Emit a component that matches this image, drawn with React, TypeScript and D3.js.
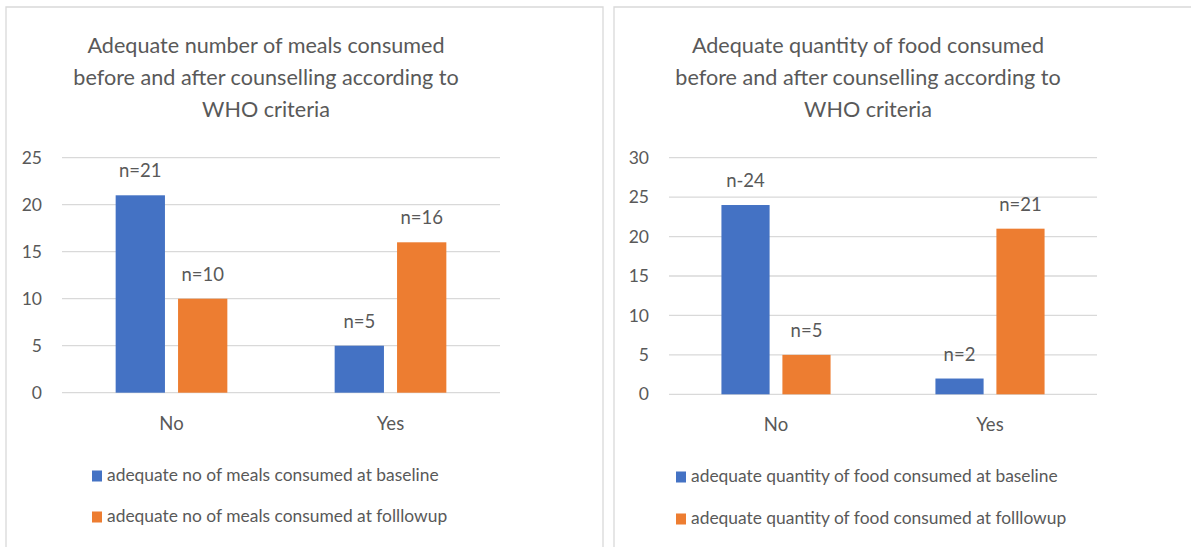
import React from "react";
import * as d3 from "d3";

const categories = ["No", "Yes"];

const mealsTitle = [
  "Adequate number of meals consumed",
  "before and after counselling according to",
  "WHO criteria",
];
const mealsSeriesNames = [
  "adequate no of meals consumed at baseline",
  "adequate no of meals consumed at folllowup",
];
const mealsBaseline = [21, 5];
const mealsFollowup = [10, 16];
const mealsBaselineLabels = ["n=21", "n=5"];
const mealsFollowupLabels = ["n=10", "n=16"];
const mealsTicks = [0, 5, 10, 15, 20, 25];

const foodTitle = [
  "Adequate quantity of food consumed",
  "before and after counselling according to",
  "WHO criteria",
];
const foodSeriesNames = [
  "adequate quantity of food consumed at baseline",
  "adequate quantity of food consumed at folllowup",
];
const foodBaseline = [24, 2];
const foodFollowup = [5, 21];
const foodBaselineLabels = ["n-24", "n=2"];
const foodFollowupLabels = ["n=5", "n=21"];
const foodTicks = [0, 5, 10, 15, 20, 25, 30];

const COLORS = ["#4472C4", "#ED7D31"];
const TEXT = "#595959";
const GRID = "#D9D9D9";
const FONT = "Lato, 'Open Sans', sans-serif";

type PanelProps = {
  box: { x0: number; x1: number; y0: number; y1: number };
  plot: { left: number; right: number; top: number; bottom: number };
  titleX: number;
  title: string[];
  ticks: number[];
  series: number[][];
  labels: string[][];
  names: string[];
  legendX: number;
  legendY: number[];
};

function Panel(p: PanelProps) {
  const yMax = p.ticks[p.ticks.length - 1];
  const y = d3.scaleLinear().domain([0, yMax]).range([p.plot.bottom, p.plot.top]);
  const x = d3
    .scaleBand<string>()
    .domain(categories)
    .range([p.plot.left, p.plot.right])
    .paddingInner(0.49)
    .paddingOuter(0.245);
  const xs = d3
    .scaleBand<number>()
    .domain(p.series.map((_, i) => i))
    .range([0, x.bandwidth()])
    .paddingInner(0.21);

  return (
    <g>
      <path
        d={`M${p.box.x0},${p.box.y1}V${p.box.y0}H${p.box.x1}V${p.box.y1}`}
        fill="none"
        stroke={GRID}
        strokeWidth={1.3}
      />
      {p.title.map((t, i) => (
        <text
          key={i}
          x={p.titleX}
          y={53 + i * 32}
          textAnchor="middle"
          fontSize={21.6}
          fill={TEXT}
          fontFamily={FONT}
        >
          {t}
        </text>
      ))}
      {p.ticks.map((t) => (
        <g key={t}>
          <line
            x1={p.plot.left}
            x2={p.plot.right}
            y1={y(t)}
            y2={y(t)}
            stroke={GRID}
            strokeWidth={1.3}
          />
          <text
            x={p.plot.left - 20}
            y={y(t)}
            dy="0.35em"
            textAnchor="end"
            fontSize={17.5}
            fill={TEXT}
            fontFamily={FONT}
          >
            {t}
          </text>
        </g>
      ))}
      {categories.map((c, ci) => (
        <g key={c}>
          {p.series.map((s, si) => {
            const bx = (x(c) as number) + (xs(si) as number);
            return (
              <g key={si}>
                <rect
                  x={bx}
                  y={y(s[ci])}
                  width={xs.bandwidth()}
                  height={y(0) - y(s[ci])}
                  fill={COLORS[si]}
                />
                <text
                  x={bx + xs.bandwidth() / 2}
                  y={y(s[ci]) - 18}
                  textAnchor="middle"
                  fontSize={18.5}
                  fill={TEXT}
                  fontFamily={FONT}
                >
                  {p.labels[si][ci]}
                </text>
              </g>
            );
          })}
          <text
            x={(x(c) as number) + x.bandwidth() / 2}
            y={p.plot.bottom + 37}
            textAnchor="middle"
            fontSize={18.5}
            fill={TEXT}
            fontFamily={FONT}
          >
            {c}
          </text>
        </g>
      ))}
      {p.names.map((n, i) => (
        <g key={n}>
          <rect
            x={p.legendX}
            y={p.legendY[i] - 10.5}
            width={10}
            height={11}
            fill={COLORS[i]}
          />
          <text
            x={p.legendX + 15}
            y={p.legendY[i]}
            fontSize={17.4}
            fill={TEXT}
            fontFamily={FONT}
          >
            {n}
          </text>
        </g>
      ))}
    </g>
  );
}

export default function App() {
  return (
    <svg
      width={1191}
      height={547}
      style={{ position: "absolute", left: 0, top: 0, background: "#fff" }}
    >
      <rect width={1191} height={547} fill="#fff" />
      <Panel
        box={{ x0: 6, x1: 603, y0: 7, y1: 560 }}
        plot={{ left: 62, right: 500, top: 157.7, bottom: 392.7 }}
        titleX={266}
        title={mealsTitle}
        ticks={mealsTicks}
        series={[mealsBaseline, mealsFollowup]}
        labels={[mealsBaselineLabels, mealsFollowupLabels]}
        names={mealsSeriesNames}
        legendX={92}
        legendY={[481, 522]}
      />
      <Panel
        box={{ x0: 614, x1: 1200, y0: 7, y1: 560 }}
        plot={{ left: 669, right: 1097, top: 157.7, bottom: 394.3 }}
        titleX={868}
        title={foodTitle}
        ticks={foodTicks}
        series={[foodBaseline, foodFollowup]}
        labels={[foodBaselineLabels, foodFollowupLabels]}
        names={foodSeriesNames}
        legendX={676}
        legendY={[482, 524]}
      />
    </svg>
  );
}
